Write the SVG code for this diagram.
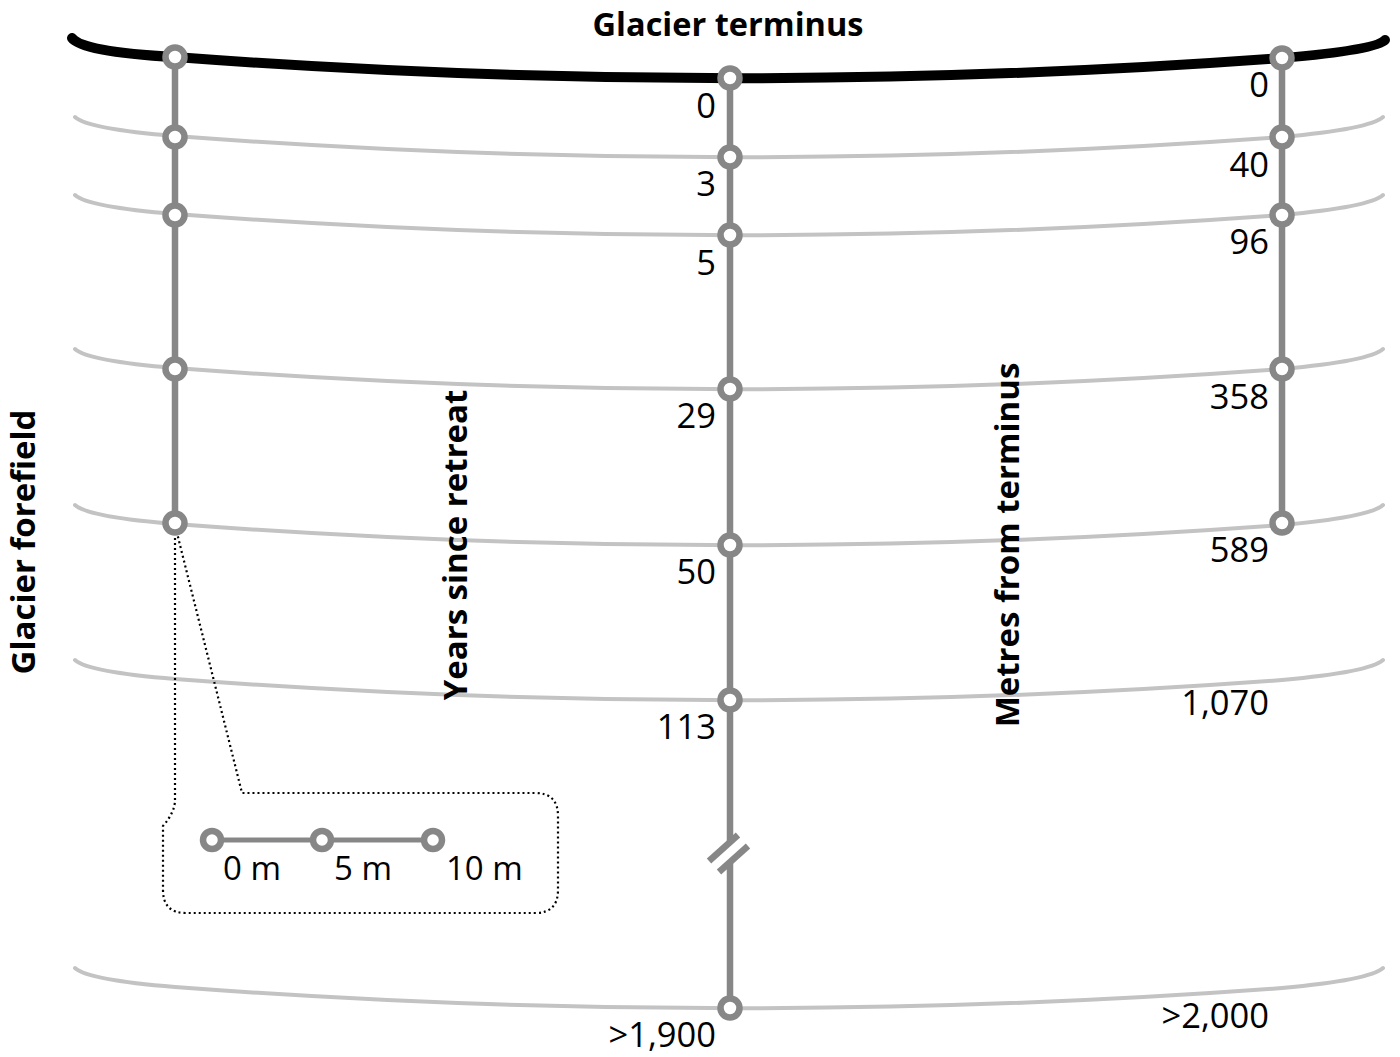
<svg xmlns="http://www.w3.org/2000/svg" width="1400" height="1057" viewBox="0 0 1400 1057">
<style>
.band{fill:none;stroke:#c3c3c3;stroke-width:4;stroke-linecap:round}
.term{fill:none;stroke:#000;stroke-width:10;stroke-linecap:round}
.axis{fill:none;stroke:#878787;stroke-width:6.5}
.node{fill:#fff;stroke:#878787;stroke-width:6.5}
.lbl{font-family:"Open Sans","Noto Sans",sans-serif;font-size:34.5px;fill:#000}
.sc{font-size:33px}
.r{text-anchor:end}
.title{font-family:"Open Sans","Noto Sans",sans-serif;font-size:33px;font-weight:bold;fill:#000;text-anchor:middle}
.dot{fill:none;stroke:#000;stroke-width:2.2;stroke-dasharray:2 3}
</style>
<defs>
<path id="arc" d="M75,38 Q88,50 175,57 Q730,99 1282,58 Q1370,50 1383,38"/>
</defs>
<g id="bands">
<use href="#arc" class="band" transform="translate(0,79)"/>
<use href="#arc" class="band" transform="translate(0,157)"/>
<use href="#arc" class="band" transform="translate(0,311)"/>
<use href="#arc" class="band" transform="translate(0,467)"/>
<use href="#arc" class="band" transform="translate(0,622)"/>
<use href="#arc" class="band" transform="translate(0,930)"/>
</g>
<g id="terminus-line">
<path class="term" d="M72,38 Q82,52 175,57 Q730,99 1282,58 Q1376,50 1385,40"/>
</g>
<g id="connectors">
<line class="axis" x1="175" y1="57" x2="175" y2="523"/>
<line class="axis" x1="1282" y1="58" x2="1282" y2="523"/>
<line class="axis" x1="730" y1="78" x2="730" y2="842"/>
<line class="axis" x1="730" y1="862" x2="730" y2="1008"/>
<line class="axis" x1="709" y1="861" x2="738" y2="835"/>
<line class="axis" x1="719" y1="872" x2="748" y2="846"/>
<path class="dot" d="M175,533 L175,800 Q175,812 163,826 L163,890 Q163,913 186,913 L535,913 Q558,913 558,890 L558,816 Q558,793 535,793 L242,793 L177,533"/>
<line class="axis" x1="212" y1="840" x2="433" y2="840" style="stroke-width:5"/>
</g>
<g id="left-nodes">
<circle class="node" cx="175" cy="57" r="9.5"/>
<circle class="node" cx="175" cy="137" r="9.5"/>
<circle class="node" cx="175" cy="215" r="9.5"/>
<circle class="node" cx="175" cy="369" r="9.5"/>
<circle class="node" cx="175" cy="523" r="9.5"/>
</g>
<g id="center-nodes">
<circle class="node" cx="730" cy="78" r="9.5"/>
<circle class="node" cx="730" cy="157" r="9.5"/>
<circle class="node" cx="730" cy="235" r="9.5"/>
<circle class="node" cx="730" cy="389" r="9.5"/>
<circle class="node" cx="730" cy="545" r="9.5"/>
<circle class="node" cx="730" cy="700" r="9.5"/>
<circle class="node" cx="730" cy="1008" r="9.5"/>
</g>
<g id="right-nodes">
<circle class="node" cx="1282" cy="58" r="9.5"/>
<circle class="node" cx="1282" cy="137" r="9.5"/>
<circle class="node" cx="1282" cy="215" r="9.5"/>
<circle class="node" cx="1282" cy="369" r="9.5"/>
<circle class="node" cx="1282" cy="523" r="9.5"/>
</g>
<g id="scale-bar">
<circle class="node" cx="212" cy="840" r="9"/>
<circle class="node" cx="322" cy="840" r="9"/>
<circle class="node" cx="433" cy="840" r="9"/>
<text class="lbl sc" x="223" y="880">0 m</text>
<text class="lbl sc" x="334" y="880">5 m</text>
<text class="lbl sc" x="446" y="880">10 m</text>
</g>
<g id="titles">
<text class="title" x="728" y="35.5" style="font-size:32.5px">Glacier terminus</text>
<text class="title" transform="translate(35,542) rotate(-90)">Glacier forefield</text>
<text class="title" transform="translate(467,545) rotate(-90)">Years since retreat</text>
<text class="title" transform="translate(1019,545) rotate(-90)">Metres from terminus</text>
</g>
<g id="years-labels">
<text class="lbl r" x="716" y="118">0</text>
<text class="lbl r" x="716" y="196">3</text>
<text class="lbl r" x="716" y="275">5</text>
<text class="lbl r" x="716" y="428">29</text>
<text class="lbl r" x="716" y="584">50</text>
<text class="lbl r" x="716" y="739">113</text>
<text class="lbl r" x="716" y="1047">&gt;1,900</text>
</g>
<g id="metres-labels">
<text class="lbl r" x="1269" y="97">0</text>
<text class="lbl r" x="1269" y="177">40</text>
<text class="lbl r" x="1269" y="254">96</text>
<text class="lbl r" x="1269" y="409">358</text>
<text class="lbl r" x="1269" y="562">589</text>
<text class="lbl r" x="1269" y="715">1,070</text>
<text class="lbl r" x="1269" y="1028">&gt;2,000</text>
</g>
</svg>
